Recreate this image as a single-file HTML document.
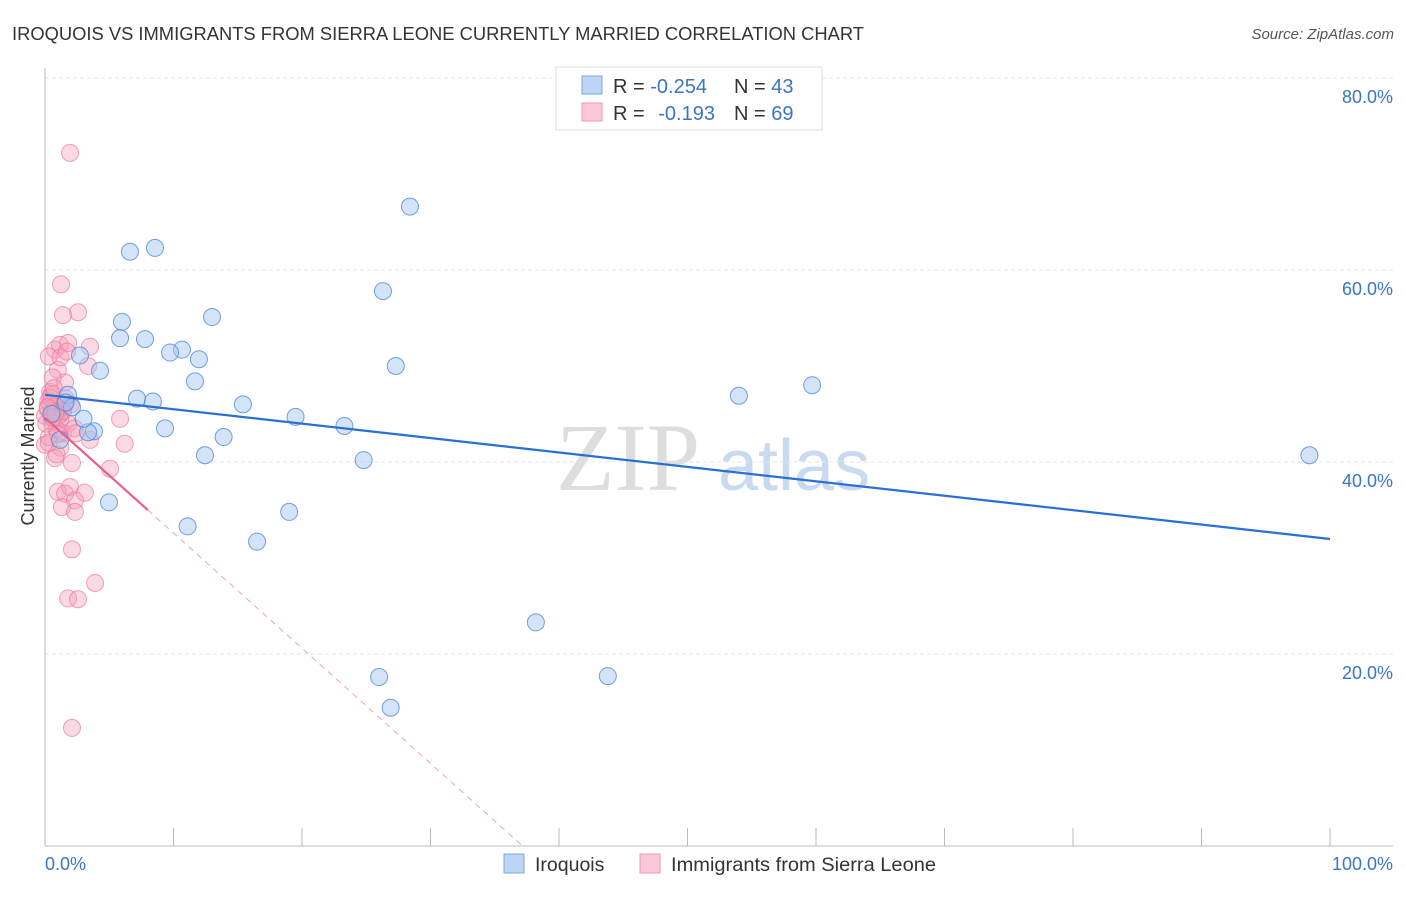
<!DOCTYPE html>
<html><head><meta charset="utf-8"><style>
body{margin:0;background:#fff;font-family:"Liberation Sans",sans-serif}
</style></head><body>
<svg id="c" width="1406" height="892" xmlns="http://www.w3.org/2000/svg" font-family="Liberation Sans, sans-serif">
<text x="12" y="40" font-size="18" fill="#333" textLength="852" lengthAdjust="spacingAndGlyphs">IROQUOIS VS IMMIGRANTS FROM SIERRA LEONE CURRENTLY MARRIED CORRELATION CHART</text>
<text x="1394" y="39" font-size="15" fill="#555" text-anchor="end" font-style="italic">Source: ZipAtlas.com</text>
<text x="700" y="490" font-size="96" fill="#ddd" text-anchor="end" font-family="Liberation Serif, serif">ZIP</text>
<text x="718" y="490" font-size="72" fill="#c9daf0">atlas</text>
<g id="grid"></g><g id="axes"></g><g id="pts"></g><g id="lines"></g>
<text transform="translate(34,456) rotate(-90)" font-size="18" fill="#333" text-anchor="middle">Currently Married</text>
<text x="45" y="870" font-size="18" fill="#3a75c4">0.0%</text>
<text x="1393" y="870" font-size="18" fill="#3a75c4" text-anchor="end">100.0%</text>
<g>
<rect x="556" y="67" width="266" height="63" fill="#fff" stroke="#ddd"/>
<rect x="582" y="76" width="20" height="18" fill="#bcd5f5" stroke="#7aa7e0"/>
<rect x="582" y="103" width="20" height="18" fill="#fac8d6" stroke="#ef9ab3"/>
<text x="613" y="93" font-size="20" fill="#333">R = <tspan fill="#3a75c4">-0.254</tspan><tspan x="734">N = </tspan><tspan fill="#3a75c4">43</tspan></text>
<text x="613" y="120" font-size="20" fill="#333">R = <tspan fill="#3a75c4" dx="8">-0.193</tspan><tspan x="734">N = </tspan><tspan fill="#3a75c4">69</tspan></text>
</g>
<g>
<rect x="504" y="854" width="20" height="19" fill="#bcd5f5" stroke="#7aa7e0"/>
<text x="535" y="871" font-size="19.5" fill="#333">Iroquois</text>
<rect x="640" y="854" width="20" height="19" fill="#fac8d6" stroke="#ef9ab3"/>
<text x="671" y="871" font-size="19.5" fill="#333" textLength="265" lengthAdjust="spacingAndGlyphs">Immigrants from Sierra Leone</text>
</g>
</svg>
<script>
const yTicks=[20,40,60,80];
const yTickLabels=["20.0%","40.0%","60.0%","80.0%"];
const blueX=[28.4,8.56,6.61,26.3,13.0,5.99,7.78,5.84,10.66,9.73,11.98,2.72,27.3,4.28,11.67,59.7,54.0,1.79,7.16,8.4,15.4,2.1,19.5,23.3,9.34,3.81,3.35,13.9,12.45,24.8,98.4,4.98,11.1,19.0,16.5,38.2,26.0,43.8,26.9,1.17,0.5,1.6,3.0];
const blueY=[66.6,62.3,61.9,57.8,55.1,54.6,52.8,52.9,51.7,51.4,50.7,51.1,50.0,49.5,48.4,48.0,46.9,47.0,46.6,46.3,46.0,45.7,44.7,43.75,43.5,43.2,43.1,42.6,40.7,40.2,40.7,35.8,33.3,34.8,31.7,23.3,17.6,17.7,14.4,42.3,45.0,46.2,44.5];
const pinkX=[1.95,1.25,2.57,1.4,0.78,1.17,1.8,3.5,3.35,1.0,1.56,0.4,0.8,0.4,0.6,1.05,1.35,0.0,0.25,1.6,0.5,1.2,1.8,0.0,1.4,5.84,2.3,3.5,6.2,1.2,0.78,2.1,5.06,1.0,1.95,1.56,3.1,2.33,1.32,2.33,2.1,3.9,1.8,2.57,2.1,0.3,0.7,0.9,1.1,0.2,0.5,1.5,0.3,0.9,0.6,1.2,2.0,0.1,0.4,0.7,1.0,1.4,0.2,0.6,2.4,0.9,0.3,1.7,0.8];
const pinkY=[72.2,58.5,55.6,55.3,51.7,52.2,52.4,52.0,50.0,49.6,48.3,47.3,45.4,46.0,45.0,45.6,45.2,44.8,46.3,46.6,47.0,44.5,44.0,41.8,43.0,44.5,43.5,42.3,41.9,41.5,40.4,39.9,39.3,36.9,37.4,36.7,36.8,36.0,35.3,34.8,30.9,27.4,25.8,25.7,12.3,51.0,45.8,45.1,44.9,45.5,44.2,45.9,42.6,43.4,48.8,50.9,46.0,44.0,46.7,47.7,42.9,45.3,45.7,44.6,43.0,40.8,42.0,51.5,45.1];
const blueLine=[47.0,31.98];
const pinkLine=[44.6,-1.2];
const X=v=>45+v*12.85, Y=v=>846-v*9.6;
const NS="http://www.w3.org/2000/svg";
function mk(t,a,p){const e=document.createElementNS(NS,t);for(const k in a)e.setAttribute(k,a[k]);document.getElementById(p).appendChild(e);return e;}
yTicks.forEach((t,i)=>{
 const g=mk('line',{x1:45,x2:1393,y1:Y(t),y2:Y(t),stroke:'#e6e6e6','stroke-dasharray':'4,3'},'grid');
 
 
 const l=mk('text',{x:1393,y:Y(t)+25,'font-size':18,fill:'#3a75c4','text-anchor':'end'},'grid');
 l.textContent=yTickLabels[i];
 
 
});
mk('line',{x1:45,x2:45,y1:68,y2:846,stroke:'#bbb'},'axes');
mk('line',{x1:45,x2:1393,y1:846,y2:846,stroke:'#bbb'},'axes');
for(let i=0;i<=10;i++){const t=mk('line',{x1:X(i*10),x2:X(i*10),y1:828,y2:846,stroke:'#bbb'},'axes');
 
 }
pinkX.forEach((x,i)=>{const c=mk('circle',{cx:X(x),cy:Y(pinkY[i]),r:8.5,fill:'rgba(246,160,185,0.4)',stroke:'rgba(236,120,155,0.7)','stroke-width':1},'pts');
 
 });
blueX.forEach((x,i)=>{const c=mk('circle',{cx:X(x),cy:Y(blueY[i]),r:8.5,fill:'rgba(160,195,240,0.45)',stroke:'rgba(70,130,215,0.75)','stroke-width':1},'pts');
 
 });
const bl=mk('line',{x1:X(0),y1:Y(blueLine[0]),x2:X(100),y2:Y(blueLine[1]),stroke:'#2a6fd6','stroke-width':2.2},'lines');


const pEnd=8, pZero=-pinkLine[0]/pinkLine[1];
const ps=mk('line',{x1:X(0),y1:Y(pinkLine[0]),x2:X(pEnd),y2:Y(pinkLine[0]+pinkLine[1]*pEnd),stroke:'#e8608a','stroke-width':2.2},'lines');


const pd=mk('line',{x1:X(pEnd),y1:Y(pinkLine[0]+pinkLine[1]*pEnd),x2:X(pZero),y2:Y(0),stroke:'#f0a0b8','stroke-width':1,'stroke-dasharray':'6,5'},'lines');


</script>
</body></html>
